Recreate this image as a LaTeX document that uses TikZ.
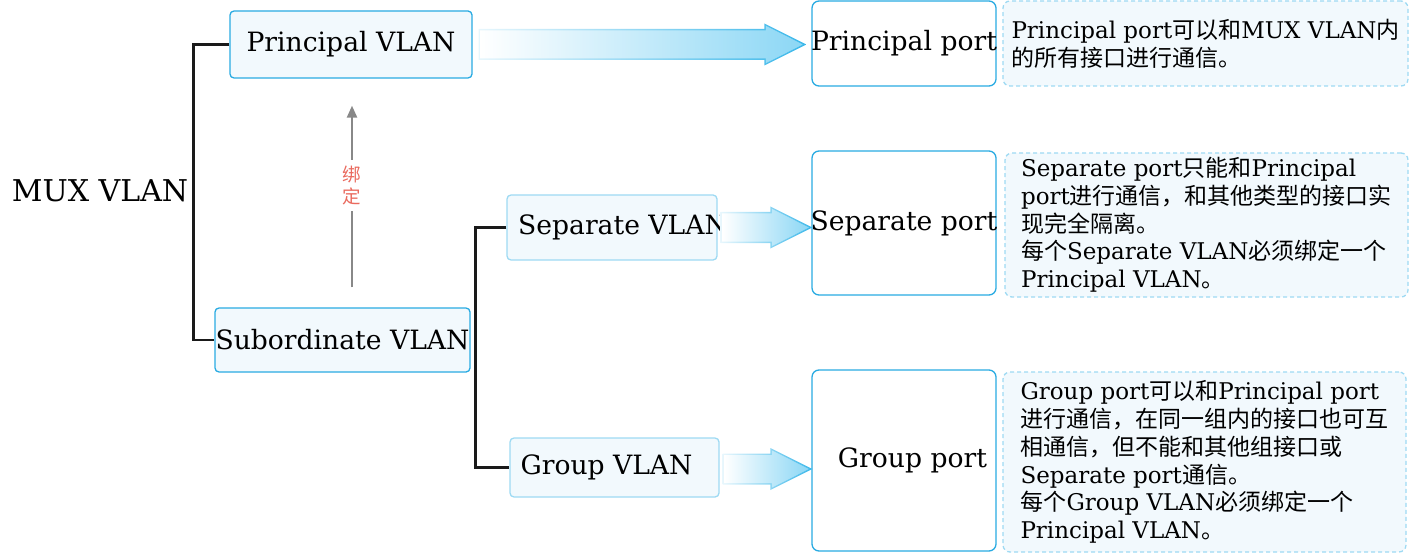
\documentclass[tikz,border=0pt]{standalone}
\usepackage{fontspec}
\setmainfont{DejaVu Serif}
\newfontfamily\cjk{Noto Sans CJK SC}
\usetikzlibrary{arrows.meta, calc}
\usepackage{xcolor}
\definecolor{boxblue}{RGB}{41,171,226}
\definecolor{boxlight}{RGB}{158,218,243}
\definecolor{boxfill}{RGB}{242,249,253}
\definecolor{arrowfill}{RGB}{140,215,245}
\definecolor{arrowline}{RGB}{60,184,234}
\definecolor{bindgray}{RGB}{136,136,136}
\definecolor{bindred}{RGB}{234,106,94}
\definecolor{treeblack}{RGB}{26,26,26}
\newcommand{\zh}[1]{{\cjk #1}}
\tikzstyle{vlan} = [rectangle, rounded corners=4pt, draw=boxblue, line width=1.3pt, fill=boxfill, inner sep=0pt, font=\fontsize{26.6}{30}\selectfont]
\tikzstyle{subvlanbox} = [vlan, draw=boxlight]
\tikzstyle{port} = [rectangle, rounded corners=7pt, draw=boxblue, line width=1.3pt, fill=white, minimum width=184pt, inner sep=0pt, font=\fontsize{26.6}{30}\selectfont]
\tikzstyle{desc} = [rectangle, rounded corners=7pt, draw=boxlight, dash pattern=on 4pt off 3pt, line width=1.3pt, fill=boxfill, align=left, inner sep=0pt, font=\fontsize{23}{27.7}\selectfont]
\tikzstyle{treeline} = [line width=2.8pt, draw=treeblack]
\tikzstyle{bindarrow} = [line width=2.4pt, draw=bindgray, -{Triangle[width=10pt,length=12pt]}]
\tikzstyle{bindlabel} = [fill=white, text=bindred, align=center, inner xsep=2pt, inner ysep=6pt, font=\fontsize{18.5}{21.5}\selectfont\cjk]
\tikzstyle{flowedge} = [left color=arrowline!12, right color=arrowline]
\tikzstyle{flowbody} = [left color=white, right color=arrowfill]
\newcommand{\flowarrow}[2]{%
  \path[flowedge] ($(#1)+(0,15.5)$) -- ($(#2)+(-41,15.5)$) -- ($(#2)+(-41,21)$) -- ($(#2)+(1,0)$) -- ($(#2)+(-41,-21)$) -- ($(#2)+(-41,-15.5)$) -- ($(#1)+(0,-15.5)$) -- cycle;
  \path[flowbody] ($(#1)+(1.5,14)$) -- ($(#2)+(-39.5,14)$) -- ($(#2)+(-39.5,18.6)$) -- ($(#2)+(-2.4,0)$) -- ($(#2)+(-39.5,-18.6)$) -- ($(#2)+(-39.5,-14)$) -- ($(#1)+(1.5,-14)$) -- cycle;}

\begin{document}
\begin{tikzpicture}[x=1pt, y=1pt]
\useasboundingbox (0,0) rectangle (1423,555);

% Root
\node[font=\fontsize{30}{34}\selectfont] (mux) at (100,364) {MUX VLAN};

% VLANs
\node[vlan, minimum width=242pt, minimum height=67pt] (pvlan) at (351,510.5) {\makebox[0pt]{Principal VLAN}};
\node[vlan, minimum width=255pt, minimum height=64pt] (subvlan) at (342.5,215) {\makebox[0pt]{Subordinate VLAN}};
\node[subvlanbox, minimum width=210pt, minimum height=65pt] (svlan) at (612,327.5) {\makebox[0pt]{\hspace{22pt}Separate VLAN}};
\node[subvlanbox, minimum width=209pt, minimum height=59pt] (gvlan) at (614.5,87.5) {\makebox[0pt]{Group VLAN\hspace{16pt}}};

% Ports
\node[port, minimum height=85pt] (pport) at (904,511.5) {\makebox[0pt]{Principal port}};
\node[port, minimum height=144pt] (sport) at (904,332) {\makebox[0pt]{Separate port}};
\node[port, minimum height=181pt] (gport) at (904,94.5) {\makebox[0pt]{\hspace{17pt}Group port}};

% Descriptions
\node[desc, minimum width=405pt, minimum height=85pt] (pdesc) at (1205.5,511.5) {Principal port\zh{可以和}MUX VLAN\zh{内}\\\zh{的所有接口进行通信。}};
\node[desc, minimum width=403pt, minimum height=144pt] (sdesc) at (1206.5,330) {Separate port\zh{只能和}Principal\\port\zh{进行通信，和其他类型的接口实}\\\zh{现完全隔离。}\\\zh{每个}Separate VLAN\zh{必须绑定一个}\\Principal VLAN\zh{。}};
\node[desc, minimum width=403pt, minimum height=180pt] (gdesc) at (1204.5,93) {Group port\zh{可以和}Principal port\\\zh{进行通信，在同一组内的接口也可互}\\\zh{相通信，但不能和其他组接口或}\\Separate port\zh{通信。}\\\zh{每个}Group VLAN\zh{必须绑定一个}\\Principal VLAN\zh{。}};

% Tree
\draw[treeline] (pvlan.west) -- ++(-36,0) |- (subvlan.west);
\draw[treeline] (svlan.west) -- ++(-31,0) |- (gvlan.west);

% Binding
\draw[bindarrow] ($(subvlan.north)+(9.5,20)$) -- node[bindlabel, pos=0.56] {绑\\定} ($(pvlan.south)+(1,-27)$);

% Flow arrows
\coordinate (a1s) at ($(pvlan.east)+(6,0)$);
\coordinate (a1e) at ($(pport.west |- pvlan.east)+(-6,0)$);
\coordinate (a2s) at ($(svlan.east)+(3,0)$);
\coordinate (a2e) at (sport.west |- svlan.east);
\coordinate (a3s) at ($(gvlan.east)+(3,-1.5)$);
\coordinate (a3e) at ($(gport.west |- gvlan.east)+(0,-1.5)$);
\flowarrow{a1s}{a1e}
\flowarrow{a2s}{a2e}
\flowarrow{a3s}{a3e}

\end{tikzpicture}
\end{document}
